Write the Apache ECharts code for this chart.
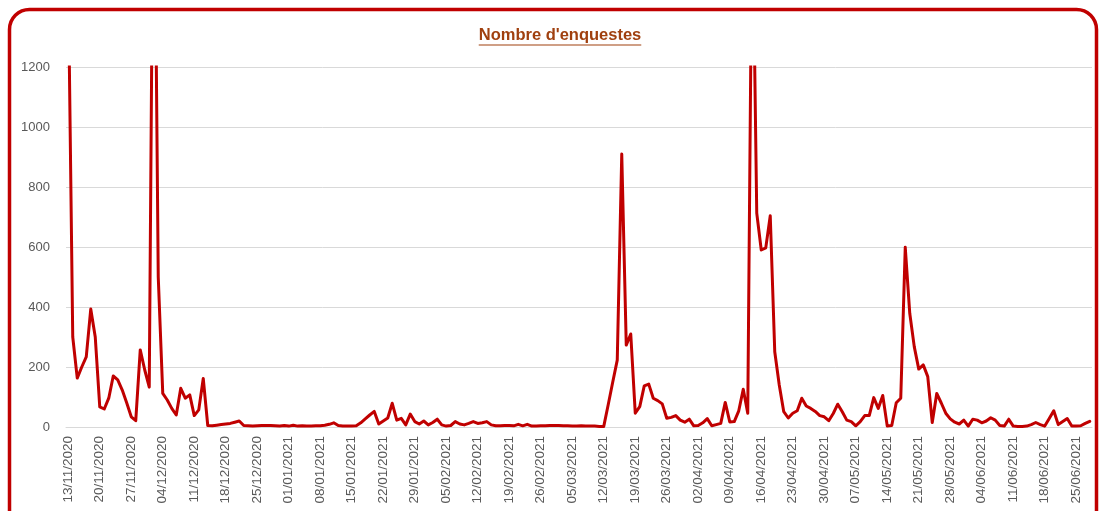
<!DOCTYPE html>
<html>
<head>
<meta charset="utf-8">
<script src="https://cdn.jsdelivr.net/npm/echarts@6/dist/echarts.min.js"></script>
<style>
  html, body { margin: 0; padding: 0; background: #ffffff; }
  #chart { width: 1099px; height: 511px; }
</style>
</head>
<body>
<div id="chart"></div>
<script>
// ---- data ----
const titleText = "Nombre d'enquestes";
const startDate = [2020, 11, 13];   // first category (year, month, day)
const dayCount = 228;               // daily categories
const yTicks = [0, 200, 400, 600, 800, 1000, 1200];
const values = [
  1500, 300, 163, 200, 234, 393, 300, 67, 60, 96,
  170, 157, 123, 80, 34, 21, 257, 190, 133, 2150,
  500, 112, 90, 62, 40, 129, 96, 107, 38, 57,
  162, 5, 4, 6, 8, 10, 12, 16, 20, 5,
  4, 3, 4, 5, 5, 5, 4, 3, 5, 3,
  6, 3, 4, 3, 3, 4, 4, 6, 9, 14,
  5, 3, 3, 3, 4, 14, 27, 40, 52, 10,
  20, 30, 79, 23, 29, 7, 43, 18, 10, 20,
  7, 15, 26, 7, 3, 5, 18, 10, 7, 12,
  18, 12, 14, 18, 7, 4, 4, 5, 5, 4,
  9, 4, 9, 3, 3, 4, 4, 5, 5, 5,
  4, 4, 3, 3, 4, 3, 3, 3, 2, 2,
  75, 150, 223, 910, 273, 310, 46, 68, 137, 143,
  96, 88, 77, 29, 32, 38, 23, 16, 26, 4,
  5, 14, 28, 4, 8, 12, 82, 17, 18, 54,
  126, 46, 1800, 713, 590, 597, 704, 251, 140, 51,
  30, 46, 54, 96, 70, 62, 52, 38, 34, 21,
  45, 76, 51, 23, 18, 4, 18, 38, 38, 98,
  62, 105, 3, 5, 81, 96, 599, 379, 268, 193,
  207, 168, 15, 112, 80, 46, 27, 16, 10, 23,
  3, 26, 23, 14, 20, 31, 23, 5, 3, 26,
  3, 2, 2, 3, 8, 15, 8, 3, 28, 54,
  8, 18, 28, 3, 3, 4, 12, 19
];

// categories: consecutive days
const categories = [];
(function () {
  const d = new Date(Date.UTC(startDate[0], startDate[1] - 1, startDate[2]));
  for (let i = 0; i < dayCount; i++) {
    const dd = String(d.getUTCDate()).padStart(2, '0');
    const mm = String(d.getUTCMonth() + 1).padStart(2, '0');
    categories.push(dd + '/' + mm + '/' + d.getUTCFullYear());
    d.setUTCDate(d.getUTCDate() + 1);
  }
})();

// ---- chart ----
const titleFont = 'bold 16.5px "Liberation Sans"';
const cv = document.createElement('canvas').getContext('2d');
cv.font = titleFont;
const titleW = cv.measureText(titleText).width;
const titleCx = 560;
const titleColor = '#A0400F';

const chart = echarts.init(document.getElementById('chart'), null, { renderer: 'canvas' });
chart.setOption({
  animation: false,
  backgroundColor: '#ffffff',
  grid: { left: 66, right: 7, top: 67, bottom: 84 },
  xAxis: {
    type: 'category',
    data: categories,
    boundaryGap: true,
    axisLine: { show: true, lineStyle: { color: '#D9D9D9', width: 1 } },
    axisTick: { show: false },
    axisLabel: {
      interval: 6,
      rotate: 90,
      margin: 9,
      color: '#595959',
      fontFamily: 'Liberation Sans',
      fontSize: 13.5
    },
    splitLine: { show: false }
  },
  yAxis: {
    type: 'value',
    min: yTicks[0],
    max: yTicks[yTicks.length - 1],
    interval: yTicks[1] - yTicks[0],
    axisLine: { show: false },
    axisTick: { show: false },
    axisLabel: {
      margin: 16,
      color: '#595959',
      fontFamily: 'Liberation Sans',
      fontSize: 13,
      formatter: function (v) { return String(v); }
    },
    splitLine: { lineStyle: { color: '#D9D9D9', width: 1 } }
  },
  series: [{
    type: 'line',
    data: values,
    showSymbol: false,
    symbol: 'none',
    clip: true,
    lineStyle: { color: '#C00000', width: 3, join: 'round', cap: 'round' },
    itemStyle: { color: '#C00000' }
  }],
  graphic: [
    {
      type: 'rect',
      silent: true,
      shape: { x: 9.5, y: 9.5, width: 1087, height: 620, r: 20 },
      style: { fill: 'none', stroke: '#C00000', lineWidth: 3.5 }
    },
    {
      type: 'text',
      silent: true,
      style: {
        x: titleCx, y: 35,
        text: titleText,
        font: titleFont,
        fill: titleColor,
        align: 'center',
        verticalAlign: 'middle'
      }
    },
    {
      type: 'line',
      silent: true,
      shape: { x1: titleCx - titleW / 2, y1: 45, x2: titleCx + titleW / 2, y2: 45 },
      style: { stroke: titleColor, lineWidth: 1.2 }
    }
  ]
});
</script>
</body>
</html>
